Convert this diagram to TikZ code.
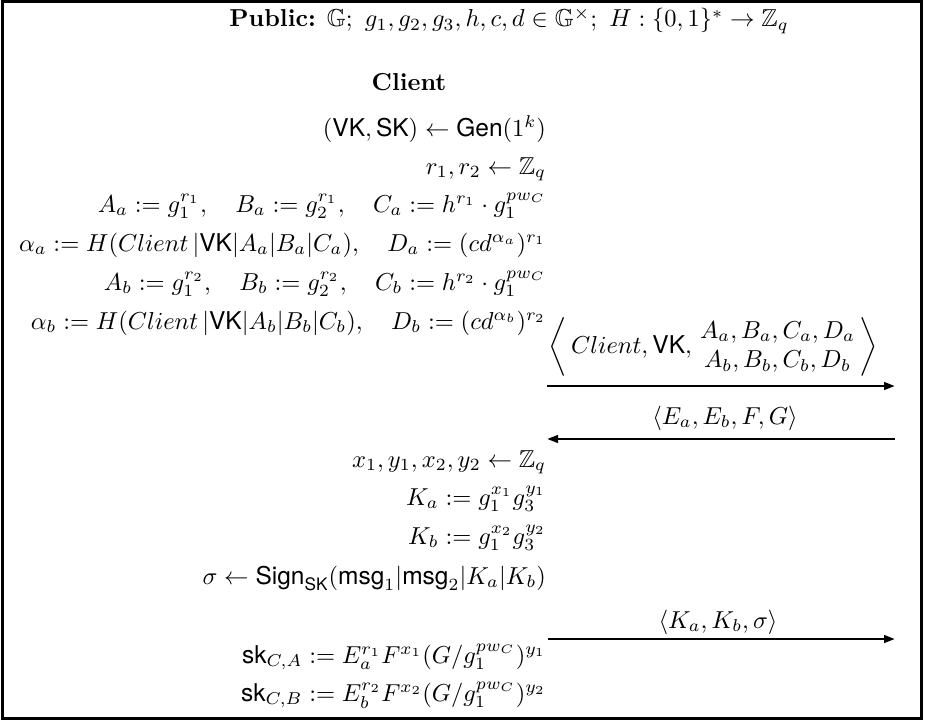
\documentclass[tikz,border=0pt]{standalone}
\usepackage{amsmath,amssymb}
\usepackage{fontspec}
\newfontfamily\heros{TeX Gyre Heros}
\newcommand{\sfm}[1]{\text{\heros #1}}
\usetikzlibrary{arrows.meta}
\tikzset{
  txt/.style={inner sep=0pt, outer sep=0pt, scale=2.45},
  lcol/.style={txt, anchor=base east},
  msgarrow/.style={line width=2.6pt, -{Triangle[length=11pt,width=7.5pt]}},
  frame/.style={line width=3pt}
}
\begin{document}
\begin{tikzpicture}[x=1pt,y=-1pt]
\useasboundingbox (0,0) rectangle (925,720);
\draw[frame] (2,1.5) rectangle (921,718.3);

\node[txt, anchor=base] (pub) at (509,27) {\textbf{Public:} $\mathbb{G};\ g_1,g_2,g_3,h,c,d\in\mathbb{G}^{\times};\ H:\{0,1\}^*\rightarrow\mathbb{Z}_q$};
\node[txt, anchor=base] (client) at (409,90) {\textbf{Client}};

\node[lcol] (r1) at (546,136) {$(\sfm{VK},\sfm{SK}) \leftarrow \sfm{Gen}(1^k)$};
\node[lcol] (r2) at (546,174) {$r_1, r_2 \leftarrow \mathbb{Z}_q$};
\node[lcol] (r3) at (546,212) {$A_a := g_1^{r_1},\quad B_a := g_2^{r_1},\quad C_a := h^{r_1}\cdot g_1^{pw_C}$};
\node[lcol] (r4) at (546,251) {$\alpha_a := H(Client\,|\sfm{VK}|A_a|B_a|C_a),\quad D_a := (cd^{\alpha_a})^{r_1}$};
\node[lcol] (r5) at (546,290) {$A_b := g_1^{r_2},\quad B_b := g_2^{r_2},\quad C_b := h^{r_2}\cdot g_1^{pw_C}$};
\node[lcol] (r6) at (546,329) {$\alpha_b := H(Client\,|\sfm{VK}|A_b|B_b|C_b),\quad D_b := (cd^{\alpha_b})^{r_2}$};

\node[txt, anchor=center] (m1) at (713,347) {$\left\langle\, Client, \sfm{VK},\, \begin{array}{@{}c@{}} A_a,B_a,C_a,D_a\\ A_b,B_b,C_b,D_b\end{array} \,\right\rangle$};
\coordinate (a1s) at (547,386);
\coordinate (a1e) at (895,386);
\draw[msgarrow] (a1s) -- (a1e);

\node[txt, anchor=base] (m2) at (725,424) {$\langle E_a, E_b, F, G\rangle$};
\coordinate (a2s) at (895,439);
\coordinate (a2e) at (547,439);
\draw[msgarrow] (a2s) -- (a2e);

\node[lcol] (r7) at (546,467) {$x_1, y_1, x_2, y_2 \leftarrow \mathbb{Z}_q$};
\node[lcol] (r8) at (546,505) {$K_a := g_1^{x_1} g_3^{y_1}$};
\node[lcol] (r9) at (546,544) {$K_b := g_1^{x_2} g_3^{y_2}$};
\node[lcol] (r10) at (546,584) {$\sigma \leftarrow \sfm{Sign}_{\sfm{SK}}(\sfm{msg}_1|\sfm{msg}_2|K_a|K_b)$};

\node[txt, anchor=base] (m3) at (718,628) {$\langle K_a, K_b, \sigma\rangle$};
\coordinate (a3s) at (548,639);
\coordinate (a3e) at (895,639);
\draw[msgarrow] (a3s) -- (a3e);

\node[lcol] (r11) at (546,663) {$\sfm{sk}_{C,A} := E_a^{r_1} F^{x_1} (G/g_1^{pw_C})^{y_1}$};
\node[lcol] (r12) at (546,701) {$\sfm{sk}_{C,B} := E_b^{r_2} F^{x_2} (G/g_1^{pw_C})^{y_2}$};
\end{tikzpicture}
\end{document}
